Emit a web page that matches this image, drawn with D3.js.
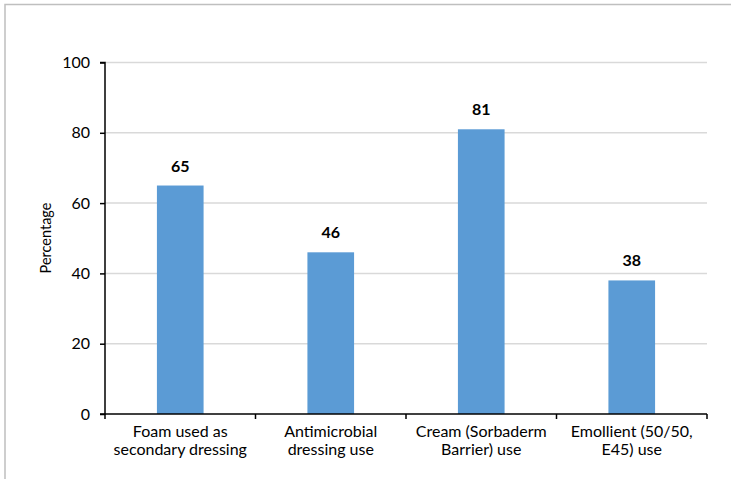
<!DOCTYPE html>
<html><head><meta charset="utf-8">
<script src="https://cdn.jsdelivr.net/npm/d3@7"></script>
<style>body{margin:0;background:#fff}svg{display:block}</style>
</head><body>
<script>
const categories = [["Foam used as","secondary dressing"],["Antimicrobial","dressing use"],["Cream (Sorbaderm","Barrier) use"],["Emollient (50/50,","E45) use"]];
const values = [65, 46, 81, 38];
const yTicks = [0, 20, 40, 60, 80, 100];

(function() {
const W = 731, H = 479;
const mLeft = 105, mRight = 707, mTop = 62.5, mBottom = 414;
const font = "Lato, 'Open Sans', sans-serif";

const svg = d3.select("body").append("svg").attr("width", W).attr("height", H);
// border
svg.append("path").attr("d", `M5,${H} L5,4.5 L${W},4.5`).attr("fill","none").attr("stroke","#bfbfbf").attr("stroke-width",1.5);

const x = d3.scaleBand().domain(d3.range(categories.length)).range([mLeft, mRight]).paddingInner(0).paddingOuter(0);
const y = d3.scaleLinear().domain([0, 100]).range([mBottom, mTop]);

// gridlines
svg.append("g").selectAll("line").data(yTicks.filter(d => d > 0)).join("line")
  .attr("x1", mLeft).attr("x2", mRight).attr("y1", d => y(d)).attr("y2", d => y(d))
  .attr("stroke", "#d9d9d9").attr("stroke-width", 1.5);

// bars
const bw = x.bandwidth() * 0.31;
svg.append("g").selectAll("rect").data(values).join("rect")
  .attr("x", (d, i) => x(i) + x.bandwidth() / 2 - bw / 2)
  .attr("width", bw)
  .attr("y", d => y(d)).attr("height", d => y(0) - y(d))
  .attr("fill", "#5b9bd5");

// value labels
svg.append("g").selectAll("text").data(values).join("text")
  .attr("x", (d, i) => x(i) + x.bandwidth() / 2)
  .attr("y", d => y(d) - 14)
  .attr("text-anchor", "middle").attr("font-family", font).attr("font-weight", "bold")
  .attr("font-size", 16).attr("fill", "#000").text(d => d);

// y axis
const yAxis = d3.axisLeft(y).tickValues(yTicks).tickSize(5).tickPadding(10).tickFormat(d3.format("d"));
const gy = svg.append("g").attr("transform", `translate(${mLeft},0)`).call(yAxis);
gy.select(".domain").attr("stroke", "#000").attr("stroke-width", 1.5).attr("d", `M-5,${mTop}H0V${mBottom}H-5`);
gy.selectAll(".tick line").attr("stroke", "#000").attr("stroke-width", 1.5);
gy.selectAll("text").attr("font-family", font).attr("font-size", 16).attr("fill", "#000");

// x axis
const gx = svg.append("g");
gx.append("line").attr("x1", mLeft).attr("x2", mRight).attr("y1", mBottom).attr("y2", mBottom).attr("stroke", "#000").attr("stroke-width", 1.5);
const bounds = d3.range(categories.length + 1).map(i => i < categories.length ? x(i) : mRight);
gx.selectAll("line.t").data(bounds).join("line").attr("class","t")
  .attr("x1", d => d).attr("x2", d => d).attr("y1", mBottom).attr("y2", mBottom + 5)
  .attr("stroke", "#000").attr("stroke-width", 1.5);
gx.selectAll("text").data(categories).join("text")
  .attr("x", (d, i) => x(i) + x.bandwidth() / 2)
  .attr("text-anchor", "middle").attr("font-family", font).attr("font-size", 16).attr("fill", "#000")
  .each(function(d) {
    const t = d3.select(this);
    d.forEach((line, k) => t.append("tspan").attr("x", t.attr("x")).attr("y", 437 + k * 17.5).text(line));
  });

// y title
svg.append("text").attr("transform", `translate(51,238) rotate(-90)`)
  .attr("text-anchor", "middle").attr("font-family", font).attr("font-size", 14.5).attr("fill", "#000")
  .text("Percentage");
})();
</script>
</body></html>
